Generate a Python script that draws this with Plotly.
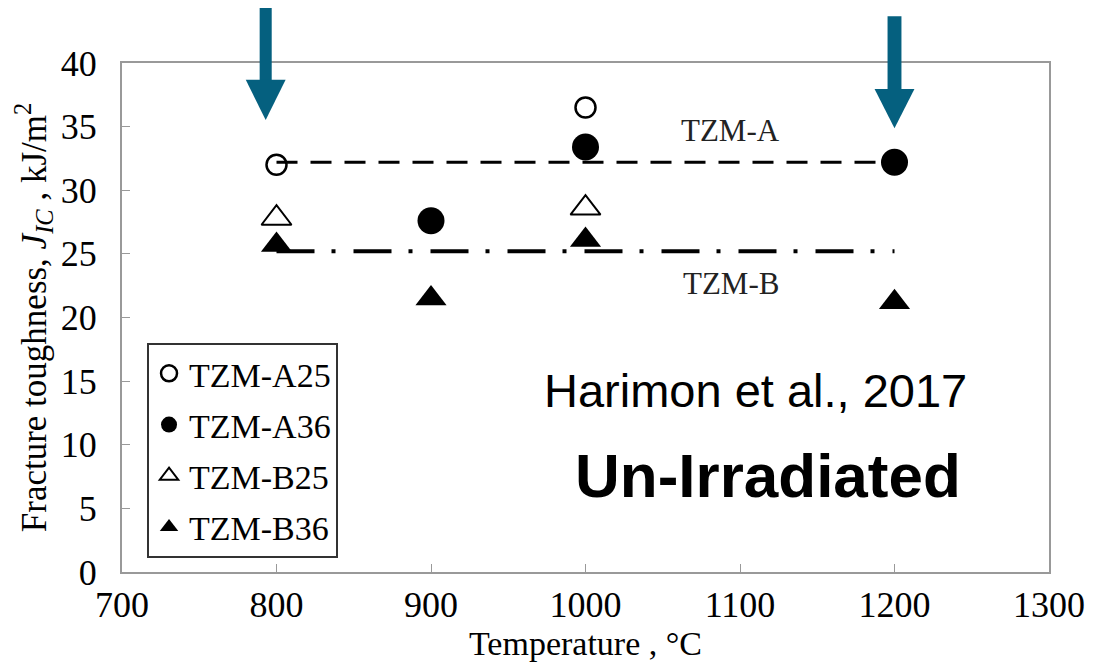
import plotly.graph_objects as go

# ---- data ----
temps_a25 = [800, 1000]
jic_a25 = [32.0, 36.5]
temps_a36 = [900, 1000, 1200]
jic_a36 = [27.6, 33.4, 32.2]
temps_b25 = [800, 1000]
jic_b25 = [27.8, 28.6]
temps_b36 = [800, 900, 1000, 1200]
jic_b36 = [25.7, 21.5, 26.1, 21.2]

fit_x = [800, 1200]
fit_a = [32.2, 32.2]
fit_b = [25.2, 25.2]

x_ticks = [700, 800, 900, 1000, 1100, 1200, 1300]
y_ticks = [0, 5, 10, 15, 20, 25, 30, 35, 40]

arrow_temps = [793, 1200]

SERIF = "Liberation Serif, Times New Roman, serif"
SANS = "Liberation Sans, Arial, sans-serif"
TEAL = "#05607f"

fig = go.Figure()

fig.add_trace(go.Scatter(x=fit_x, y=fit_a, mode="lines", showlegend=False,
                         line=dict(color="black", width=3, dash="21px,13px")))
fig.add_trace(go.Scatter(x=fit_x, y=fit_b, mode="lines", showlegend=False,
                         line=dict(color="black", width=4, dash="38px,17px,4px,18px")))

fig.add_trace(go.Scatter(x=temps_a25, y=jic_a25, mode="markers", name="TZM-A25",
                         legendgroup="a25",
                         marker=dict(symbol="circle-open", size=20, color="black",
                                     line=dict(width=2.5, color="black"))))
fig.add_trace(go.Scatter(x=temps_a36, y=jic_a36, mode="markers", name="TZM-A36",
                         legendgroup="a36",
                         marker=dict(symbol="circle", size=27, color="black")))
fig.add_trace(go.Scatter(x=temps_b25, y=jic_b25, mode="markers", name="TZM-B25",
                         legendgroup="b25",
                         marker=dict(symbol="triangle-up-open", size=26, color="black",
                                     line=dict(width=2, color="black"))))
fig.add_trace(go.Scatter(x=temps_b36, y=jic_b36, mode="markers", name="TZM-B36",
                         legendgroup="b36",
                         marker=dict(symbol="triangle-up", size=27, color="black")))

# ---- arrows (teal, pointing down) ----
arrow_tops = [1.110, 1.092]
arrow_bases = [0.967, 0.949]
arrow_tips = [0.888, 0.872]
shaft_halves = [3.9, 4.5]
head_half = 12.9
shapes = []
for xc, yt, yb, yp, sh in zip(arrow_temps, arrow_tops, arrow_bases, arrow_tips, shaft_halves):
    shapes.append(dict(type="rect", xref="x", yref="paper",
                       x0=xc - sh, x1=xc + sh, y0=yb - 0.005, y1=yt,
                       fillcolor=TEAL, line=dict(width=0), layer="above"))
    shapes.append(dict(type="path", xref="x", yref="paper",
                       path=f"M {xc - head_half} {yb} L {xc + head_half} {yb} L {xc} {yp} Z",
                       fillcolor=TEAL, line=dict(width=0), layer="above"))

annotations = [
    dict(x=1094, y=34.7, xref="x", yref="y", text="TZM-A", showarrow=False,
         font=dict(family=SERIF, size=31, color="#222")),
    dict(x=1094, y=22.7, xref="x", yref="y", text="TZM-B", showarrow=False,
         font=dict(family=SERIF, size=31, color="#222")),
    dict(x=1110, y=14.3, xref="x", yref="y", text="Harimon et al., 2017", showarrow=False,
         font=dict(family=SANS, size=47, color="black")),
    dict(x=1118, y=7.6, xref="x", yref="y", text="<b>Un-Irradiated</b>", showarrow=False,
         font=dict(family=SANS, size=62, color="black")),
]

# page has an 8px body margin, so the figure is 8px smaller and margins shifted
fig.update_layout(
    width=1089, height=656, autosize=False,
    margin=dict(l=114, r=42, t=55, b=92),
    paper_bgcolor="white", plot_bgcolor="white",
    shapes=shapes, annotations=annotations,
    legend=dict(x=0.027, y=0.028, xanchor="left", yanchor="bottom",
                bordercolor="#333", borderwidth=2, bgcolor="white",
                font=dict(family=SERIF, size=34, color="black"),
                tracegroupgap=4, itemwidth=30),
    font=dict(family=SERIF, color="black"),
)

fig.update_xaxes(range=[700, 1300], tickvals=x_ticks, ticks="inside", ticklen=8,
                 tickcolor="#999", showline=True, mirror=True, linecolor="#999",
                 linewidth=2, showgrid=False, zeroline=False,
                 tickfont=dict(family=SERIF, size=36, color="black"),
                 title=dict(text="Temperature , °C", standoff=0,
                            font=dict(family=SERIF, size=34, color="black")))
fig.update_yaxes(range=[0, 40], tickvals=y_ticks, ticks="inside", ticklen=8,
                 tickcolor="#999", showline=True, mirror=True, linecolor="#999",
                 linewidth=2, showgrid=False, zeroline=False, ticklabelstandoff=16,
                 tickfont=dict(family=SERIF, size=36, color="black"),
                 title=dict(text="Fracture toughness, <i>J</i><sub><i>IC</i></sub> , kJ/m<sup>2</sup>",
                            standoff=4,
                            font=dict(family=SERIF, size=35, color="black")))

fig.write_html("out.html")
